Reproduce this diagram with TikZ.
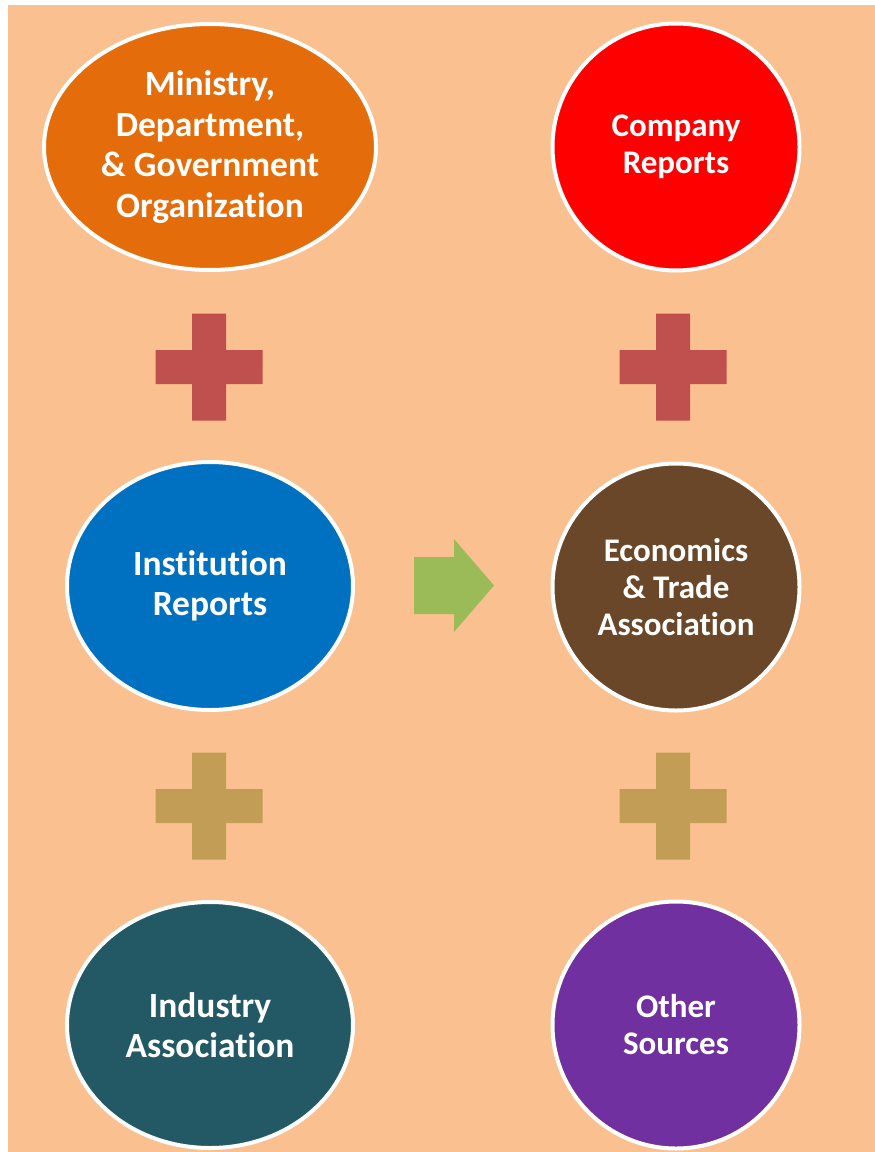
\documentclass[tikz,border=0pt]{standalone}
\usepackage{fontspec}
\setmainfont[RawFeature={-liga;-clig;-calt;-dlig}]{Carlito}
\usetikzlibrary{shapes.geometric}
\definecolor{bgColor}{HTML}{FAC090}
\definecolor{govColor}{HTML}{E46C0A}
\definecolor{compColor}{HTML}{FF0000}
\definecolor{instColor}{HTML}{0070C0}
\definecolor{econColor}{HTML}{6B4729}
\definecolor{induColor}{HTML}{235965}
\definecolor{otherColor}{HTML}{7030A0}
\definecolor{redPlus}{HTML}{C0504D}
\definecolor{tanPlus}{HTML}{C29D56}
\definecolor{arrowColor}{HTML}{9BBB59}
\tikzset{
	src/.style={draw=white, line width=3pt, text=white, align=center, inner sep=0pt},
	bigtxt/.style={font=\fontsize{26.6}{30.4}\selectfont\bfseries},
	smalltxt/.style={font=\fontsize{24.75}{27.75}\selectfont\bfseries},
	oval/.style={src, ellipse, bigtxt},
	disc/.style={src, circle, smalltxt, minimum size=185.25pt},
	pics/plus/.style={code={
			\fill[#1] (-53.5,-17) -- (-17,-17) -- (-17,-53.5) -- (17,-53.5) -- (17,-17) -- (53.5,-17)
			-- (53.5,17) -- (17,17) -- (17,53.5) -- (-17,53.5) -- (-17,17) -- (-53.5,17) -- cycle;}}
}

\begin{document}
\begin{tikzpicture}[x=0.75pt, y=-0.75pt]
	\useasboundingbox (0,0) rectangle (874,1152);
	% background
	\fill[white] (-5,-5) rectangle (880,1160);
	\fill[bgColor] (8,5) rectangle (880,1160);
	% sources
	\node[oval, fill=govColor, minimum width=249pt, minimum height=184.5pt] (gov) at (210,147)
		{Ministry,\\Department,\\\& Government\\Organization};
	\node[disc, fill=compColor] (comp) at (676,147) {Company\\Reports};
	\node[oval, fill=instColor, minimum width=214.5pt, minimum height=186pt] (inst) at (210,586)
		{Institution\\Reports};
	\node[disc, fill=econColor] (econ) at (676,587) {Economics\\\& Trade\\Association};
	\node[oval, fill=induColor, minimum width=214.5pt, minimum height=184.5pt] (indu) at (210,1025)
		{Industry\\Association};
	\node[disc, fill=otherColor] (other) at (676,1025) {Other\\Sources};
	% plus signs
	\pic at (209,367) {plus=redPlus};
	\pic at (673,367) {plus=redPlus};
	\pic at (209,806) {plus=tanPlus};
	\pic at (673,806) {plus=tanPlus};
	% arrow
	\fill[arrowColor] (414,557) -- (454,557) -- (454,539) -- (494,585.5) -- (454,632)
		-- (454,614) -- (414,614) -- cycle;
\end{tikzpicture}
\end{document}
